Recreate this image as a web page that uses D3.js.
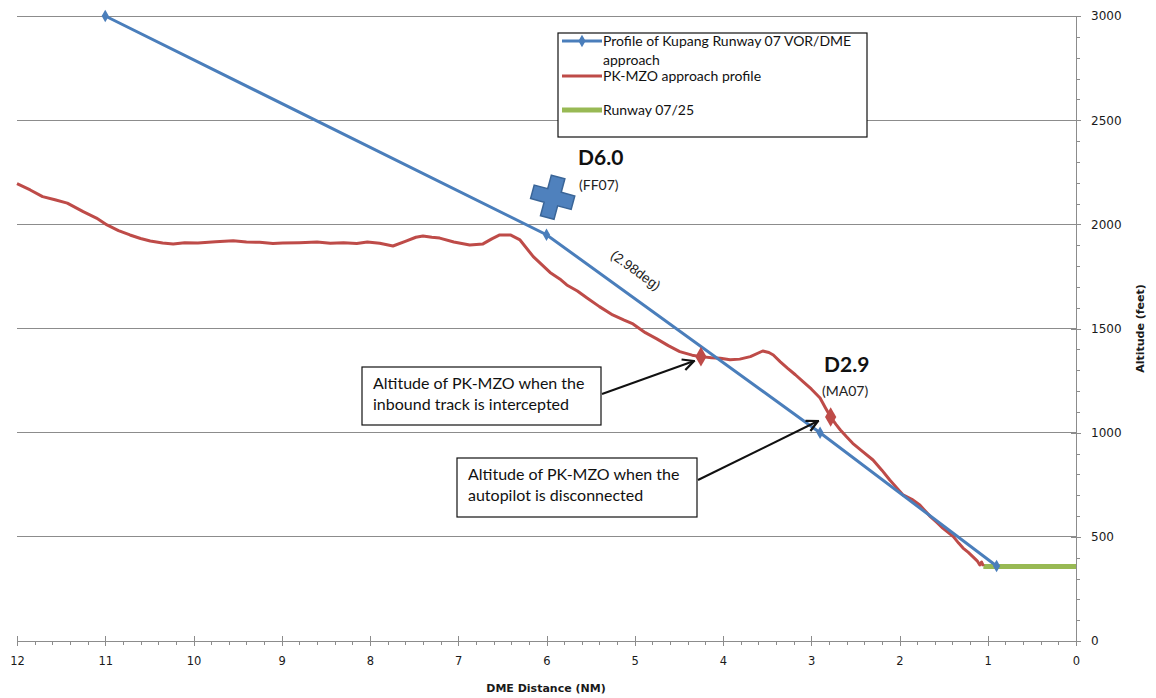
<!DOCTYPE html>
<html>
<head>
<meta charset="utf-8">
<script src="https://cdn.jsdelivr.net/npm/d3@7/dist/d3.min.js"></script>
<style>
  html, body { margin: 0; padding: 0; background: #ffffff; }
  svg { display: block; }
</style>
</head>
<body>
<svg id="chart" width="1156" height="698"></svg>
<script>
// ---------------- DATA ----------------
const xTickValues = [12, 11, 10, 9, 8, 7, 6, 5, 4, 3, 2, 1, 0];
const yTickValues = [0, 500, 1000, 1500, 2000, 2500, 3000];

// Profile of Kupang Runway 07 VOR/DME approach: [DME NM, altitude ft]
const profileVorDme = [[11, 3000], [6, 1950], [2.9, 1000], [0.9, 360]];

// PK-MZO approach profile: [DME NM, altitude ft]
const pkMzoProfile = [
  [12, 2195], [11.85, 2165], [11.71, 2133], [11.57, 2118], [11.43, 2102], [11.25, 2061],
  [11.1, 2030], [10.98, 1997], [10.85, 1970], [10.72, 1949], [10.6, 1932], [10.49, 1920],
  [10.35, 1910], [10.23, 1906], [10.1, 1912], [9.95, 1910], [9.75, 1916], [9.55, 1921],
  [9.4, 1915], [9.25, 1914], [9.1, 1908], [8.99, 1910], [8.8, 1912], [8.6, 1915],
  [8.45, 1909], [8.3, 1912], [8.15, 1908], [8.03, 1915], [7.89, 1909], [7.74, 1896],
  [7.6, 1918], [7.48, 1938], [7.40, 1944], [7.30, 1938], [7.21, 1934], [7.05, 1915],
  [6.87, 1901], [6.72, 1906], [6.62, 1930], [6.53, 1949], [6.41, 1949], [6.30, 1925],
  [6.15, 1845], [5.96, 1769], [5.85, 1738], [5.77, 1709], [5.65, 1680], [5.54, 1646],
  [5.4, 1605], [5.25, 1565], [5.12, 1540], [5.02, 1522], [4.88, 1480], [4.75, 1450],
  [4.62, 1418], [4.49, 1389], [4.35, 1372], [4.25, 1365], [4.13, 1360], [4.03, 1357],
  [3.92, 1350], [3.81, 1353], [3.69, 1365], [3.55, 1392], [3.48, 1385], [3.43, 1373],
  [3.35, 1340], [3.27, 1310], [3.18, 1278], [3.09, 1244], [3.0, 1210], [2.90, 1166],
  [2.84, 1120], [2.78, 1075], [2.72, 1040], [2.67, 1013], [2.6, 980], [2.53, 949],
  [2.42, 910], [2.30, 869], [2.2, 820], [2.11, 773], [2.03, 735], [1.96, 701],
  [1.86, 680], [1.77, 653], [1.7, 620], [1.65, 597], [1.58, 570], [1.51, 542],
  [1.45, 522], [1.39, 501], [1.33, 470], [1.28, 446], [1.22, 425], [1.17, 405],
  [1.12, 385], [1.09, 365], [1.07, 379], [1.05, 360]
];

// Key points of PK-MZO (intercept, autopilot disconnect)
const pkMzoKeyPoints = [[4.25, 1365], [2.78, 1075]];

// Runway 07/25
const runway = [[1.05, 358], [0, 358]];

// Fix marker FF07
const fixCross = [5.93, 2130];

const legendLabels = ["Profile of Kupang Runway 07 VOR/DME", "approach", "PK-MZO approach profile", "Runway 07/25"];

// ---------------- LAYOUT ----------------
const svg = d3.select("#chart");
const x = d3.scaleLinear().domain([12, 0]).range([17, 1076]);
const y = d3.scaleLinear().domain([0, 3000]).range([641, 16]);

const blue = "#4A7EBB", red = "#BE4B48", green = "#98B954";
const gridCol = "#8c8c8c";
const tickFont = "'DejaVu Sans', Verdana, sans-serif";
const calibri = "Lato, 'Open Sans', sans-serif";

// gridlines
svg.append("g").selectAll("line").data(yTickValues.filter(v => v > 0)).join("line")
  .attr("x1", x(12)).attr("x2", x(0))
  .attr("y1", d => y(d)).attr("y2", d => y(d))
  .attr("stroke", gridCol).attr("stroke-width", 1).attr("shape-rendering", "crispEdges");

// x axis (minor ticks)
const xMinor = d3.range(0, 60).map(i => i * 0.2).filter(v => Math.abs(v - Math.round(v)) > 1e-6);
svg.append("g").attr("transform", `translate(0,${y(0)})`)
  .call(d3.axisBottom(x).tickValues(xMinor).tickSize(4).tickFormat(""))
  .call(g => g.select(".domain").remove())
  .call(g => g.selectAll("line").attr("stroke", gridCol).attr("shape-rendering", "crispEdges"));
// x axis major
svg.append("g").attr("transform", `translate(0,${y(0)})`)
  .call(d3.axisBottom(x).tickValues(xTickValues).tickSize(5).tickPadding(11).tickSizeOuter(0).tickFormat(d3.format("d")))
  .call(g => g.select(".domain").attr("stroke", gridCol).attr("shape-rendering", "crispEdges"))
  .call(g => g.selectAll(".tick line").attr("y1", -5).attr("stroke", gridCol).attr("shape-rendering", "crispEdges"))
  .call(g => g.selectAll("text").attr("font-family", tickFont).attr("font-size", 11.5).attr("fill", "#1a1a1a"));

// y axis minor
const yMinor = d3.range(0, 3001, 100).filter(v => v % 500 !== 0);
svg.append("g").attr("transform", `translate(${x(0)},0)`)
  .call(d3.axisRight(y).tickValues(yMinor).tickSize(4).tickFormat(""))
  .call(g => g.select(".domain").remove())
  .call(g => g.selectAll("line").attr("stroke", gridCol).attr("shape-rendering", "crispEdges"));
// y axis major
svg.append("g").attr("transform", `translate(${x(0)},0)`)
  .call(d3.axisRight(y).tickValues(yTickValues).tickSize(5).tickPadding(10).tickSizeOuter(0).tickFormat(d3.format("d")))
  .call(g => g.select(".domain").attr("stroke", gridCol).attr("shape-rendering", "crispEdges"))
  .call(g => g.selectAll(".tick line").attr("x1", -5).attr("stroke", gridCol).attr("shape-rendering", "crispEdges"))
  .call(g => g.selectAll("text").attr("font-family", tickFont).attr("font-size", 12).attr("fill", "#1a1a1a"));

// axis titles
svg.append("text").attr("x", 546).attr("y", 692).attr("text-anchor", "middle")
  .attr("font-family", tickFont).attr("font-weight", "bold").attr("font-size", 11).attr("fill", "#1a1a1a")
  .text("DME Distance (NM)");
svg.append("text").attr("transform", `translate(1144,${y(1500)}) rotate(-90)`).attr("text-anchor", "middle")
  .attr("font-family", tickFont).attr("font-weight", "bold").attr("font-size", 11).attr("fill", "#1a1a1a")
  .text("Altitude (feet)");

// ---------------- SERIES ----------------
const line = d3.line().x(d => x(d[0])).y(d => y(d[1]));

svg.append("path").datum(runway).attr("d", line)
  .attr("fill", "none").attr("stroke", green).attr("stroke-width", 5);

svg.append("path").datum(pkMzoProfile).attr("d", line)
  .attr("fill", "none").attr("stroke", red).attr("stroke-width", 3).attr("stroke-linejoin", "round");

svg.append("path").datum(profileVorDme).attr("d", line)
  .attr("fill", "none").attr("stroke", blue).attr("stroke-width", 3);

const diamond = d3.symbol().type(d3.symbolDiamond);
svg.append("g").selectAll("path").data(profileVorDme).join("path")
  .attr("transform", d => `translate(${x(d[0])},${y(d[1])})`)
  .attr("d", diamond.size(45)).attr("fill", blue);

svg.append("g").selectAll("path").data(pkMzoKeyPoints).join("path")
  .attr("transform", d => `translate(${x(d[0])},${y(d[1])})`)
  .attr("d", d3.symbol().type(d3.symbolDiamond).size(110)).attr("fill", red);

// fix cross marker
const crossPath = "M-7,-21 L7,-21 L7,-7 L21,-7 L21,7 L7,7 L7,21 L-7,21 L-7,7 L-21,7 L-21,-7 L-7,-7 Z";
svg.append("path").datum(fixCross)
  .attr("transform", d => `translate(${x(d[0])},${y(d[1])}) rotate(15)`)
  .attr("d", crossPath).attr("fill", "#4F81BD").attr("stroke", "#3A6597").attr("stroke-width", 1.5);

// ---------------- ANNOTATIONS ----------------
svg.append("text").attr("x", 578).attr("y", 165).attr("font-family", calibri)
  .attr("font-weight", "bold").attr("font-size", 21).attr("fill", "#111").text("D6.0");
svg.append("text").attr("x", 579).attr("y", 190).attr("font-family", calibri)
  .attr("font-size", 14).attr("fill", "#222").text("(FF07)");
svg.append("text").attr("x", 824).attr("y", 372).attr("font-family", calibri)
  .attr("font-weight", "bold").attr("font-size", 21).attr("fill", "#111").text("D2.9");
svg.append("text").attr("x", 822).attr("y", 396).attr("font-family", calibri)
  .attr("font-size", 14).attr("fill", "#222").text("(MA07)");
svg.append("text").attr("transform", "translate(633,274) rotate(36)").attr("text-anchor", "middle")
  .attr("font-family", "'Liberation Sans', Arial, sans-serif").attr("font-size", 13.5).attr("fill", "#222").text("(2.98deg)");

// callouts
function callout(bx, by, bw, bh, lines, x1, y1, x2, y2) {
  svg.append("rect").attr("x", bx).attr("y", by).attr("width", bw).attr("height", bh)
    .attr("fill", "#fff").attr("stroke", "#111").attr("stroke-width", 1.2);
  lines.forEach((t, i) => svg.append("text").attr("x", bx + 11).attr("y", by + 22 + i * 21)
    .attr("font-family", calibri).attr("font-size", 16).attr("fill", "#111").text(t));
  svg.append("line").attr("x1", x1).attr("y1", y1).attr("x2", x2).attr("y2", y2)
    .attr("stroke", "#111").attr("stroke-width", 2).attr("marker-end", "url(#arrow)");
}
svg.append("defs").append("marker").attr("id", "arrow").attr("viewBox", "0 0 10 10")
  .attr("refX", 9).attr("refY", 5).attr("markerWidth", 7).attr("markerHeight", 7)
  .attr("orient", "auto").append("path").attr("d", "M1,1 L9,5 L1,9").attr("fill", "none")
  .attr("stroke", "#111").attr("stroke-width", 1.6);

callout(362, 367, 239, 58, ["Altitude of PK-MZO when the", "inbound track is intercepted"], 602, 394, 694, 361);
callout(457, 458, 240, 59, ["Altitude of PK-MZO when the", "autopilot is disconnected"], 698, 480, 818, 421);

// ---------------- LEGEND ----------------
const lg = svg.append("g");
lg.append("rect").attr("x", 558).attr("y", 33).attr("width", 309).attr("height", 104)
  .attr("fill", "#fff").attr("stroke", "#111").attr("stroke-width", 1.2);
const legendItems = [
  { color: blue, w: 3, y: 41, marker: true },
  { color: red, w: 3, y: 76, marker: false },
  { color: green, w: 5, y: 110, marker: false }
];
legendItems.forEach(it => {
  lg.append("line").attr("x1", 562).attr("x2", 602).attr("y1", it.y).attr("y2", it.y)
    .attr("stroke", it.color).attr("stroke-width", it.w);
  if (it.marker) lg.append("path").attr("transform", `translate(582,${it.y})`)
    .attr("d", d3.symbol().type(d3.symbolDiamond).size(45)()).attr("fill", blue);
});
const lt = [[legendLabels[0], 46], [legendLabels[1], 65], [legendLabels[2], 81], [legendLabels[3], 115]];
lt.forEach(([t, yy]) => lg.append("text").attr("x", 603).attr("y", yy)
  .attr("font-family", calibri).attr("font-size", 14).attr("fill", "#111").text(t));
</script>
</body>
</html>
